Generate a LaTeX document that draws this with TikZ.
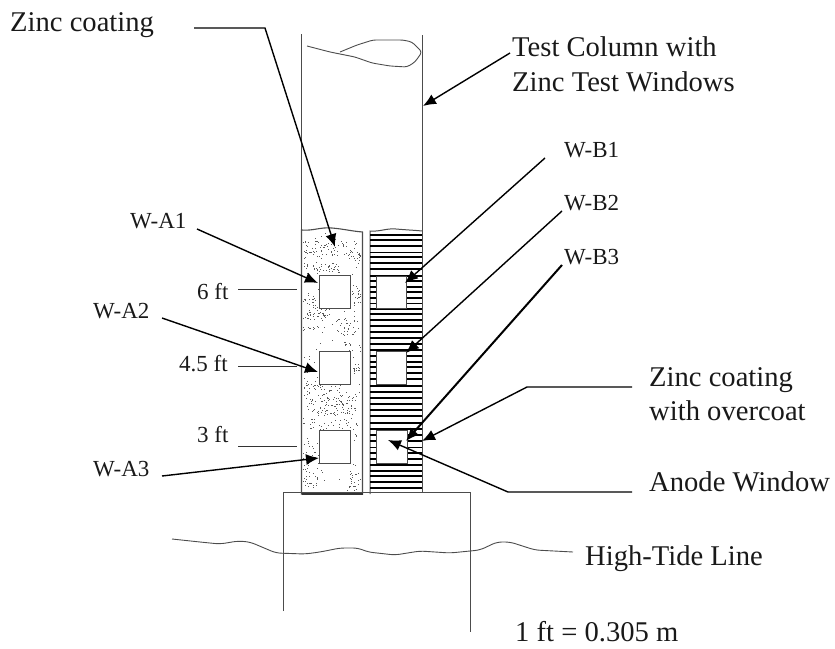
\documentclass[tikz,border=0pt]{standalone}
\usepackage{fontspec}
\setmainfont{Liberation Serif}
\usetikzlibrary{arrows.meta}
\tikzset{
  big/.style={font=\fontsize{28.6}{33}\selectfont,inner sep=0pt,anchor=base west,text=black!90},
  small/.style={font=\fontsize{23}{27}\selectfont,inner sep=0pt,anchor=base west,text=black!90},
  thin line/.style={line width=1pt,black!70},
  tick line/.style={line width=1pt,black!80},
  lead/.style={line width=1.4pt,black,-{Latex[length=13pt,width=11pt]}},
  win/.style={draw=black!70,line width=1pt,fill=white,inner sep=0pt,anchor=north west,minimum width=31pt,minimum height=33pt},
}
\pgfmathsetseed{4711}
\begin{document}
\begin{tikzpicture}[x=1pt,y=-1pt]
\useasboundingbox (0,0) rectangle (835,648);
% column
\draw[thin line] (301.5,34) -- (301.5,230);
\draw[thin line] (422.5,35) -- (422.5,493);
% twist at top of the column
\draw[thin line,line width=0.9pt,rounded corners=3pt] (307,46) -- (330,52) -- (355,57) -- (372,63) -- (390,66) -- (407,67) -- (415,62) -- (422,52) -- (412,42) -- (403,40) -- (373,40) -- (357,45) -- (340,52);
% left panel
\draw[thin line,line width=1.1pt] (301.5,230) to[out=-5,in=175] (332,228) to[out=-5,in=175] (362.5,232) -- (362.5,494) -- (301.5,494) -- cycle;
\foreach \xa/\xb/\ya/\yb/\n in {303/360/232/490/170, 303/357/240/256/70, 303/340/262/272/40, 353/360/253/263/12, 352/360/285/305/15, 303/330/295/320/70, 335/355/318/335/30, 303/320/326/330/10, 343/353/341/345/8, 353/360/363/375/12, 303/340/377/395/60, 305/356/397/415/90, 303/360/418/430/35, 303/317/440/488/40, 350/360/470/490/18} {
  \foreach \i in {1,...,\n} {
    \pgfmathsetmacro{\px}{\xa+rnd*(\xb-\xa)}
    \pgfmathsetmacro{\py}{\ya+rnd*(\yb-\ya)}
    \fill[black!65] (\px,\py) rectangle ++(1,1);
  }
}
\fill[black!80] (302,491.5) rectangle (362.5,494.5);
% right panel
\draw[thin line] (370,494) -- (370,231) to[out=-5,in=175] (396,229) to[out=-5,in=175] (422.5,231);
\foreach \y/\w in {235/1.4,240/1.8,246/1.6,252/1.0,257/1.6,263/1.1,269/1.4,276/1.8,281/1.2,287/1.5,292/1.3,298/1.6,303/1.0,309/1.8,314/1.4,320/1.6,326/1.2,332/1.8,338/1.2,344/1.5,350/1.3,356/1.5,362/1.2,367/1.5,373/1.2,379/1.6,386/1.1,392/1.8,398/1.2,404/1.4,410/1.4,416/1.8,423/1.3,429/1.7,435/1.3,441/1.7,447/1.0,453/1.5,459/1.2,465/1.8,471/1.2,476/1.7,482/1.2,488/1.9}
  \draw[black,line width=\w pt] (370,\y) -- (422,\y);
% windows
\node[win] (a1) at (319,275) {};
\node[win] (a2) at (319,351) {};
\node[win] (a3) at (319,430) {};
\node[win,minimum width=30pt,minimum height=32pt] (b1) at (376,276) {};
\node[win,minimum width=30pt] (b2) at (376,351) {};
\node[win] (b3) at (376,430) {};
% base
\draw[thin line] (283.5,611) -- (283.5,492.5) -- (470.5,492.5) -- (470.5,632);
% tide line
\draw[thin line,line width=0.9pt,rounded corners=5pt] (172,539) -- (200,542) -- (220,544) -- (238,541) -- (250,542) -- (276,553) -- (305,554) -- (320,552) -- (340,548) -- (358,548) -- (368,552) -- (395,555) -- (420,551) -- (450,553) -- (480,550) -- (497,542) -- (510,542) -- (535,550) -- (573,552);
% labels
\node[big] (zc) at (10,31) {Zinc coating};
\node[big] (tc) at (512,56) {Test Column with};
\node[big] (ztw) at (512,91) {Zinc Test Windows};
\node[small] (wb1) at (564,157) {W-B1};
\node[small] (wb2) at (564,210) {W-B2};
\node[small] (wb3) at (564,264) {W-B3};
\node[small] (wa1) at (130,228) {W-A1};
\node[small] (wa2) at (93,318) {W-A2};
\node[small] (wa3) at (93,476) {W-A3};
\node[small] (f6) at (197,299) {6 ft};
\node[small] (f45) at (179,371) {4.5 ft};
\node[small] (f3) at (197,442) {3 ft};
\node[big] (zo) at (649,386) {Zinc coating};
\node[big] (wo) at (649,420) {with overcoat};
\node[big] (aw) at (649,491) {Anode Window};
\node[big] (ht) at (585,565) {High-Tide Line};
\node[big] (sc) at (515,641) {1 ft = 0.305 m};
% leaders
\coordinate (zc1) at (194,28); \coordinate (zc2) at (265,28); \coordinate (zct) at (335,247);
\draw[lead] (zc1) -- (zc2) -- (zct);
\coordinate (tcs) at (510,53); \coordinate (tct) at (423,106);
\draw[lead] (tcs) -- (tct);
\coordinate (a1s) at (197,229); \coordinate (a1t) at (318,283);
\draw[lead] (a1s) -- (a1t);
\coordinate (a2s) at (162,318); \coordinate (a2t) at (318,372);
\draw[lead] (a2s) -- (a2t);
\coordinate (a3s) at (162,476); \coordinate (a3t) at (319,458);
\draw[lead] (a3s) -- (a3t);
\coordinate (b1s) at (545,158); \coordinate (b1t) at (405,283);
\draw[lead] (b1s) -- (b1t);
\coordinate (b2s) at (562,211); \coordinate (b2t) at (406,353);
\draw[lead] (b2s) -- (b2t);
\coordinate (b3s) at (562,265); \coordinate (b3t) at (406,441);
\draw[lead,line width=2pt] (b3s) -- (b3t);
\coordinate (zo1) at (632,387); \coordinate (zo2) at (527,387); \coordinate (zot) at (422,441);
\draw[lead] (zo1) -- (zo2) -- (zot);
\coordinate (aw1) at (632,492); \coordinate (aw2) at (508,492); \coordinate (awt) at (388,440);
\draw[lead] (aw1) -- (aw2) -- (awt);
\coordinate (f6s) at (238,289); \coordinate (f6e) at (297,289);
\coordinate (f45s) at (238,366); \coordinate (f45e) at (297,366);
\coordinate (f3s) at (238,446); \coordinate (f3e) at (297,446);
\draw[tick line] (f6s) -- (f6e);
\draw[tick line] (f45s) -- (f45e);
\draw[tick line] (f3s) -- (f3e);
\end{tikzpicture}
\end{document}
